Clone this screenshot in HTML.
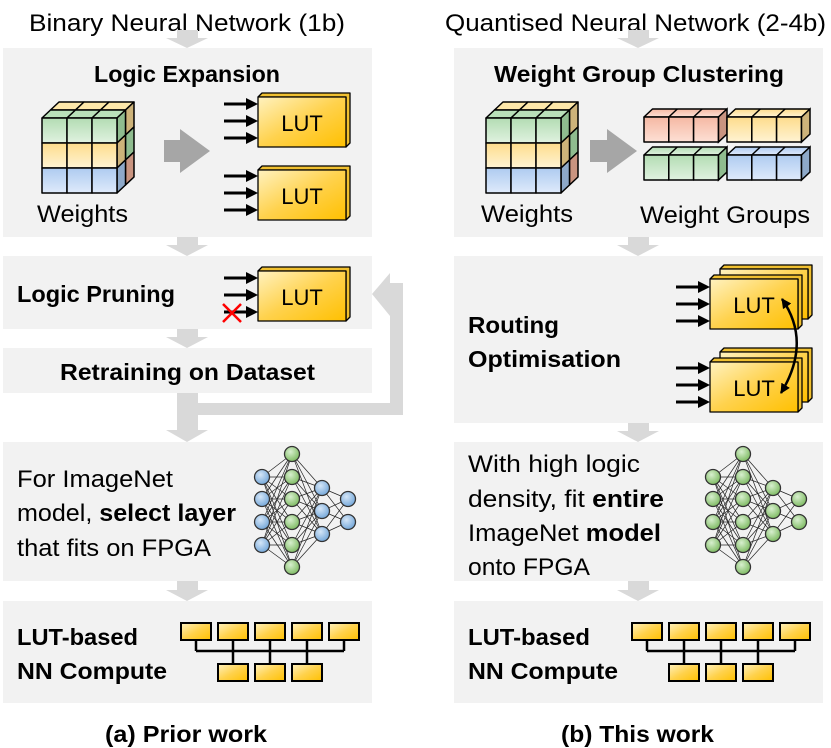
<!DOCTYPE html>
<html><head><meta charset="utf-8"><style>
html,body{margin:0;padding:0;background:#fff}
svg{display:block}
text{font-family:"Liberation Sans",sans-serif;fill:#000}
.b{font-weight:bold}
</style></head><body>
<svg width="831" height="748" viewBox="0 0 831 748" xmlns="http://www.w3.org/2000/svg">
<defs>
<linearGradient id="gy" x1="0" y1="0" x2="1" y2="1"><stop offset="0" stop-color="#fff2c0"/><stop offset="0.5" stop-color="#ffd24d"/><stop offset="1" stop-color="#ffc000"/></linearGradient>
<linearGradient id="gg" x1="0" y1="0" x2="0" y2="1"><stop offset="0" stop-color="#b3dcb3"/><stop offset="1" stop-color="#e0f2e0"/></linearGradient>
<linearGradient id="gyl" x1="0" y1="0" x2="0" y2="1"><stop offset="0" stop-color="#fddc8c"/><stop offset="1" stop-color="#fff3d3"/></linearGradient>
<linearGradient id="gb" x1="0" y1="0" x2="0" y2="1"><stop offset="0" stop-color="#aecbf0"/><stop offset="1" stop-color="#dfeafb"/></linearGradient>
<linearGradient id="gr" x1="0" y1="0" x2="0" y2="1"><stop offset="0" stop-color="#f5b8a3"/><stop offset="1" stop-color="#fde0d5"/></linearGradient>
<radialGradient id="nb" cx="0.4" cy="0.35" r="0.7"><stop offset="0" stop-color="#d5e6f7"/><stop offset="1" stop-color="#6fa4d8"/></radialGradient>
<radialGradient id="ng" cx="0.4" cy="0.35" r="0.7"><stop offset="0" stop-color="#d8efcf"/><stop offset="1" stop-color="#79b85c"/></radialGradient>
<marker id="ah" viewBox="0 0 10 10" refX="9" refY="5" markerWidth="4" markerHeight="4" orient="auto-start-reverse"><path d="M0,0 L10,5 L0,10 z" fill="#000"/></marker>

<g id="cube" stroke="#000" stroke-width="1.5" stroke-linejoin="round">
  <polygon points="8.5,-8 33.5,-8 42,-16 17,-16" fill="#fde7a9"/>
  <polygon points="33.5,-8 58.5,-8 67,-16 42,-16" fill="#fde7a9"/>
  <polygon points="58.5,-8 83.5,-8 92,-16 67,-16" fill="#fde7a9"/>
  <polygon points="83.5,-8 92,-16 92,9 83.5,17" fill="#cdb37a"/>
  <polygon points="83.5,17 92,9 92,34 83.5,42" fill="#8fbc8f"/>
  <polygon points="83.5,42 92,34 92,59 83.5,67" fill="#c99480"/>
  <polygon points="0,0 25,0 33.5,-8 8.5,-8" fill="#b9e0b9"/>
  <polygon points="25,0 50,0 58.5,-8 33.5,-8" fill="#b9e0b9"/>
  <polygon points="50,0 75,0 83.5,-8 58.5,-8" fill="#b9e0b9"/>
  <polygon points="75,0 83.5,-8 83.5,17 75,25" fill="#8fbc8f"/>
  <polygon points="75,25 83.5,17 83.5,42 75,50" fill="#cdb37a"/>
  <polygon points="75,50 83.5,42 83.5,67 75,75" fill="#8ea9c9"/>
  <rect x="0" y="0" width="25" height="25" fill="url(#gg)"/><rect x="25" y="0" width="25" height="25" fill="url(#gg)"/><rect x="50" y="0" width="25" height="25" fill="url(#gg)"/>
  <rect x="0" y="25" width="25" height="25" fill="url(#gyl)"/><rect x="25" y="25" width="25" height="25" fill="url(#gyl)"/><rect x="50" y="25" width="25" height="25" fill="url(#gyl)"/>
  <rect x="0" y="50" width="25" height="25" fill="url(#gb)"/><rect x="25" y="50" width="25" height="25" fill="url(#gb)"/><rect x="50" y="50" width="25" height="25" fill="url(#gb)"/>
</g>

<g id="lut1" stroke="#000" stroke-width="1.3" stroke-linejoin="round">
  <polygon points="0,0 4,-4 92,-4 92,46 88,50 88,0" fill="#f0c030"/>
  <rect x="0" y="0" width="88" height="50" fill="url(#gy)"/>
</g>
<g id="in3" stroke="#000" stroke-width="3">
  <line x1="0" y1="0" x2="24" y2="0"/><line x1="0" y1="17" x2="24" y2="17"/><line x1="0" y1="34" x2="24" y2="34"/>
  <path d="M22,-6 L34,0 L22,6z M22,11 L34,17 L22,23z M22,28 L34,34 L22,40z" fill="#000" stroke="none"/>
</g>

<g id="nnl" stroke="#222" stroke-width="0.7">
  <line x1="262" y1="477" x2="292" y2="454"/><line x1="262" y1="477" x2="292" y2="477"/><line x1="262" y1="477" x2="292" y2="499"/><line x1="262" y1="477" x2="292" y2="522"/><line x1="262" y1="477" x2="292" y2="545"/><line x1="262" y1="477" x2="292" y2="567"/>
  <line x1="262" y1="499" x2="292" y2="454"/><line x1="262" y1="499" x2="292" y2="477"/><line x1="262" y1="499" x2="292" y2="499"/><line x1="262" y1="499" x2="292" y2="522"/><line x1="262" y1="499" x2="292" y2="545"/><line x1="262" y1="499" x2="292" y2="567"/>
  <line x1="262" y1="522" x2="292" y2="454"/><line x1="262" y1="522" x2="292" y2="477"/><line x1="262" y1="522" x2="292" y2="499"/><line x1="262" y1="522" x2="292" y2="522"/><line x1="262" y1="522" x2="292" y2="545"/><line x1="262" y1="522" x2="292" y2="567"/>
  <line x1="262" y1="545" x2="292" y2="454"/><line x1="262" y1="545" x2="292" y2="477"/><line x1="262" y1="545" x2="292" y2="499"/><line x1="262" y1="545" x2="292" y2="522"/><line x1="262" y1="545" x2="292" y2="545"/><line x1="262" y1="545" x2="292" y2="567"/>
  <line x1="292" y1="454" x2="322" y2="488"/><line x1="292" y1="454" x2="322" y2="511"/><line x1="292" y1="454" x2="322" y2="534"/>
  <line x1="292" y1="477" x2="322" y2="488"/><line x1="292" y1="477" x2="322" y2="511"/><line x1="292" y1="477" x2="322" y2="534"/>
  <line x1="292" y1="499" x2="322" y2="488"/><line x1="292" y1="499" x2="322" y2="511"/><line x1="292" y1="499" x2="322" y2="534"/>
  <line x1="292" y1="522" x2="322" y2="488"/><line x1="292" y1="522" x2="322" y2="511"/><line x1="292" y1="522" x2="322" y2="534"/>
  <line x1="292" y1="545" x2="322" y2="488"/><line x1="292" y1="545" x2="322" y2="511"/><line x1="292" y1="545" x2="322" y2="534"/>
  <line x1="292" y1="567" x2="322" y2="488"/><line x1="292" y1="567" x2="322" y2="511"/><line x1="292" y1="567" x2="322" y2="534"/>
  <line x1="322" y1="488" x2="348" y2="499"/><line x1="322" y1="488" x2="348" y2="522"/>
  <line x1="322" y1="511" x2="348" y2="499"/><line x1="322" y1="511" x2="348" y2="522"/>
  <line x1="322" y1="534" x2="348" y2="499"/><line x1="322" y1="534" x2="348" y2="522"/>
</g>

<g id="tree" stroke="#000">
  <path d="M196,640 V651 M233,640 V664 M270,640 V664 M307,640 V664 M344,640 V651 M196,651 H344" fill="none" stroke-width="2.5"/>
  <g stroke-width="2" fill="url(#gy)">
    <rect x="181" y="623" width="30" height="17"/><rect x="218" y="623" width="30" height="17"/><rect x="255" y="623" width="30" height="17"/><rect x="292" y="623" width="30" height="17"/><rect x="329" y="623" width="30" height="17"/>
    <rect x="218" y="664" width="30" height="17"/><rect x="255" y="664" width="30" height="17"/><rect x="292" y="664" width="30" height="17"/>
  </g>
</g>

<g id="bar3" stroke="#000" stroke-width="1.5" stroke-linejoin="round">
  <polygon points="0,0 8.5,-8 83,-8 74.5,0"/>
  <rect x="0" y="0" width="24.8" height="25"/><rect x="24.8" y="0" width="24.8" height="25"/><rect x="49.6" y="0" width="24.9" height="25"/>
  <path d="M24.8,0 L33.3,-8 M49.6,0 L58.1,-8" fill="none"/>
</g>
</defs>

<text x="29" y="31" font-size="24" textLength="316" lengthAdjust="spacingAndGlyphs">Binary Neural Network (1b)</text>
<text x="445" y="31" font-size="24" textLength="381" lengthAdjust="spacingAndGlyphs">Quantised Neural Network (2-4b)</text>

<g fill="#f2f2f2">
<rect x="3" y="48" width="369" height="189"/>
<rect x="3" y="256" width="369" height="73"/>
<rect x="3" y="348" width="369" height="45"/>
<rect x="3" y="442" width="369" height="139"/>
<rect x="3" y="601" width="369" height="102"/>
<rect x="454" y="48" width="369" height="189"/>
<rect x="454" y="256" width="369" height="167"/>
<rect x="454" y="442" width="369" height="139"/>
<rect x="454" y="601" width="369" height="102"/>
</g>

<g fill="#d9d9d9">
<path d="M177,30 H198 V38 H208 L187,48 L166,38 H177z"/>
<path d="M177,237 H198 V245 H208 L187,256 L166,245 H177z"/>
<path d="M177,329 H198 V337 H208 L187,348 L166,337 H177z"/>
<path d="M177,393 H198 V430 H208 L187,442 L166,430 H177z"/>
<path d="M177,581 H198 V590 H208 L187,601 L166,590 H177z"/>
<path d="M198,403 H390 V283 H403 V415 H198z"/>
<path d="M372,294 L390,273 L390,316z"/>
<path d="M628,30 H649 V38 H659 L638,48 L617,38 H628z"/>
<path d="M628,237 H649 V245 H659 L638,256 L617,245 H628z"/>
<path d="M628,423 H649 V431 H659 L638,442 L617,431 H628z"/>
<path d="M628,581 H649 V590 H659 L638,601 L617,590 H628z"/>
</g>

<!-- Left box 1 -->
<text x="94" y="82" font-size="23" class="b" textLength="186" lengthAdjust="spacingAndGlyphs">Logic Expansion</text>
<use href="#cube" x="42" y="118"/>
<text x="37" y="222" font-size="24" textLength="91" lengthAdjust="spacingAndGlyphs">Weights</text>
<path d="M164,140 H180 V129 L210,151 L180,173 V162 H164z" fill="#a6a6a6"/>
<use href="#lut1" x="258" y="97"/>
<text x="302" y="131" font-size="22" text-anchor="middle">LUT</text>
<use href="#in3" x="224" y="104"/>
<use href="#lut1" x="258" y="170"/>
<text x="302" y="204" font-size="22" text-anchor="middle">LUT</text>
<use href="#in3" x="224" y="176"/>

<!-- Left box 2 -->
<text x="17" y="302" font-size="23" class="b" textLength="158" lengthAdjust="spacingAndGlyphs">Logic Pruning</text>
<use href="#lut1" x="258" y="271"/>
<text x="302" y="305" font-size="22" text-anchor="middle">LUT</text>
<use href="#in3" x="224" y="278"/>
<path d="M223,304 L241,322 M241,304 L223,322" stroke="#ff0000" stroke-width="2.5"/>

<!-- Left box 3 -->
<text x="60" y="380" font-size="23" class="b" textLength="255" lengthAdjust="spacingAndGlyphs">Retraining on Dataset</text>

<!-- Left box 4 -->
<text x="17" y="487" font-size="24" textLength="156" lengthAdjust="spacingAndGlyphs">For ImageNet</text>
<text x="17" y="521" font-size="24" textLength="219" lengthAdjust="spacingAndGlyphs">model, <tspan class="b">select layer</tspan></text>
<text x="17" y="556" font-size="24" textLength="194" lengthAdjust="spacingAndGlyphs">that fits on FPGA</text>
<use href="#nnl"/>
<g stroke="#333" stroke-width="1.3">
<circle cx="262" cy="477" r="7.5" fill="url(#nb)"/><circle cx="262" cy="499" r="7.5" fill="url(#nb)"/><circle cx="262" cy="522" r="7.5" fill="url(#nb)"/><circle cx="262" cy="545" r="7.5" fill="url(#nb)"/>
<circle cx="292" cy="454" r="7.5" fill="url(#ng)"/><circle cx="292" cy="477" r="7.5" fill="url(#ng)"/><circle cx="292" cy="499" r="7.5" fill="url(#ng)"/><circle cx="292" cy="522" r="7.5" fill="url(#ng)"/><circle cx="292" cy="545" r="7.5" fill="url(#ng)"/><circle cx="292" cy="567" r="7.5" fill="url(#ng)"/>
<circle cx="322" cy="488" r="7.5" fill="url(#nb)"/><circle cx="322" cy="511" r="7.5" fill="url(#nb)"/><circle cx="322" cy="534" r="7.5" fill="url(#nb)"/>
<circle cx="348" cy="499" r="7.5" fill="url(#nb)"/><circle cx="348" cy="522" r="7.5" fill="url(#nb)"/>
</g>

<!-- Left box 5 -->
<text x="17" y="645" font-size="23" class="b" textLength="121" lengthAdjust="spacingAndGlyphs">LUT-based</text>
<text x="17" y="679" font-size="23" class="b" textLength="150" lengthAdjust="spacingAndGlyphs">NN Compute</text>
<use href="#tree"/>

<text x="105" y="742" font-size="23" class="b" textLength="162" lengthAdjust="spacingAndGlyphs">(a) Prior work</text>

<!-- Right box 1 -->
<text x="494" y="82" font-size="23" class="b" textLength="290" lengthAdjust="spacingAndGlyphs">Weight Group Clustering</text>
<use href="#cube" x="486" y="118"/>
<text x="481" y="222" font-size="24" textLength="92" lengthAdjust="spacingAndGlyphs">Weights</text>
<path d="M590,140 H607 V129 L637,151 L607,173 V162 H590z" fill="#a6a6a6"/>
<use href="#bar3" x="644" y="117" fill="url(#gr)"/>
<polygon points="718.5,117 727,109 727,134 718.5,142" fill="#c99480" stroke="#000" stroke-width="1.5"/>
<use href="#bar3" x="727" y="117" fill="url(#gyl)"/>
<polygon points="801.5,117 810,109 810,134 801.5,142" fill="#cdb37a" stroke="#000" stroke-width="1.5"/>
<use href="#bar3" x="644" y="155" fill="url(#gg)"/>
<polygon points="718.5,155 727,147 727,172 718.5,180" fill="#8fbc8f" stroke="#000" stroke-width="1.5"/>
<use href="#bar3" x="727" y="155" fill="url(#gb)"/>
<polygon points="801.5,155 810,147 810,172 801.5,180" fill="#8ea9c9" stroke="#000" stroke-width="1.5"/>
<text x="640" y="223" font-size="24" textLength="170" lengthAdjust="spacingAndGlyphs">Weight Groups</text>

<!-- Right box 2 -->
<text x="468" y="333" font-size="23" class="b" textLength="91" lengthAdjust="spacingAndGlyphs">Routing</text>
<text x="468" y="367" font-size="23" class="b" textLength="153" lengthAdjust="spacingAndGlyphs">Optimisation</text>
<use href="#lut1" x="720" y="269"/>
<use href="#lut1" x="710" y="279"/>
<text x="754" y="313" font-size="22" text-anchor="middle">LUT</text>
<use href="#in3" x="676" y="287"/>
<use href="#lut1" x="720" y="352"/>
<use href="#lut1" x="710" y="362"/>
<text x="754" y="396" font-size="22" text-anchor="middle">LUT</text>
<use href="#in3" x="676" y="368"/>
<path d="M782,299 Q812,342 781,393" fill="none" stroke="#000" stroke-width="2.5" marker-start="url(#ah)" marker-end="url(#ah)"/>

<!-- Right box 3 -->
<text x="468" y="472" font-size="24" textLength="172" lengthAdjust="spacingAndGlyphs">With high logic</text>
<text x="468" y="507" font-size="24" textLength="196" lengthAdjust="spacingAndGlyphs">density, fit <tspan class="b">entire</tspan></text>
<text x="468" y="541" font-size="24" textLength="193" lengthAdjust="spacingAndGlyphs">ImageNet <tspan class="b">model</tspan></text>
<text x="468" y="575" font-size="24" textLength="122" lengthAdjust="spacingAndGlyphs">onto FPGA</text>
<use href="#nnl" x="451"/>
<g stroke="#333" stroke-width="1.3" fill="url(#ng)">
<circle cx="713" cy="477" r="7.5"/><circle cx="713" cy="499" r="7.5"/><circle cx="713" cy="522" r="7.5"/><circle cx="713" cy="545" r="7.5"/>
<circle cx="743" cy="454" r="7.5"/><circle cx="743" cy="477" r="7.5"/><circle cx="743" cy="499" r="7.5"/><circle cx="743" cy="522" r="7.5"/><circle cx="743" cy="545" r="7.5"/><circle cx="743" cy="567" r="7.5"/>
<circle cx="773" cy="488" r="7.5"/><circle cx="773" cy="511" r="7.5"/><circle cx="773" cy="534" r="7.5"/>
<circle cx="799" cy="499" r="7.5"/><circle cx="799" cy="522" r="7.5"/>
</g>

<!-- Right box 4 -->
<text x="468" y="645" font-size="23" class="b" textLength="122" lengthAdjust="spacingAndGlyphs">LUT-based</text>
<text x="468" y="679" font-size="23" class="b" textLength="150" lengthAdjust="spacingAndGlyphs">NN Compute</text>
<use href="#tree" x="451"/>

<text x="561" y="742" font-size="23" class="b" textLength="153" lengthAdjust="spacingAndGlyphs">(b) This work</text>
</svg>
</body></html>
